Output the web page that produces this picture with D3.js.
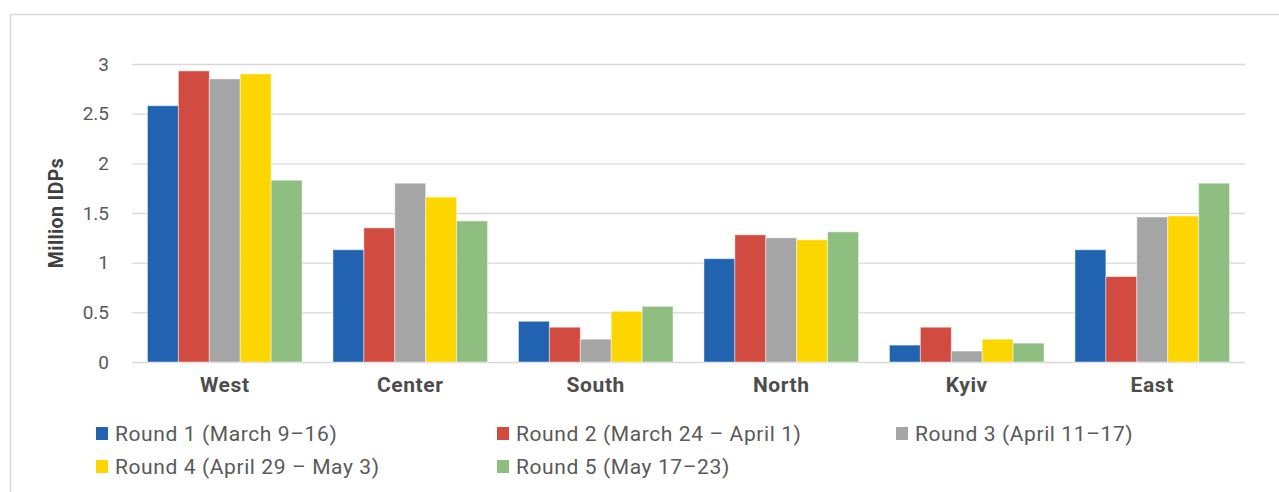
<!DOCTYPE html>
<html>
<head>
<meta charset="utf-8">
<script src="https://cdn.jsdelivr.net/npm/d3@7"></script>
<style>
  html, body { margin: 0; padding: 0; background: #fff; }
  svg { display: block; font-family: Roboto, "Noto Sans", sans-serif; }
</style>
</head>
<body>
<div id="chartContainer"></div>
<script>
const regions = ['West', 'Center', 'South', 'North', 'Kyiv', 'East'];
const rounds = [
    'Round 1 (March 9–16)',
    'Round 2 (March 24 – April 1)',
    'Round 3 (April 11–17)',
    'Round 4 (April 29 – May 3)',
    'Round 5 (May 17–23)'
];
const roundColors = ['#2163b0', '#d14b40', '#a5a5a5', '#fdd600', '#8fbf80'];

// million IDPs per region, one array per round
const round1 = [2.58, 1.13, 0.41, 1.04, 0.17, 1.13];
const round2 = [2.93, 1.35, 0.35, 1.28, 0.35, 0.86];
const round3 = [2.85, 1.80, 0.23, 1.25, 0.11, 1.46];
const round4 = [2.90, 1.66, 0.51, 1.23, 0.23, 1.47];
const round5 = [1.83, 1.42, 0.56, 1.31, 0.19, 1.80];
const yTicks = [0, 0.5, 1, 1.5, 2, 2.5, 3];

const seriesValues = [round1, round2, round3, round4, round5];

function makeChart() {
    const width = 1279;
    const height = 492;
    const margin = { top: 64, right: 34, bottom: 130, left: 132 };

    const svg = d3.select('#chartContainer')
        .append('svg')
        .attr('width', width)
        .attr('height', height);

    // outer frame (top + left edges visible)
    svg.append('path')
        .attr('d', `M10.5,${height + 2} V14.5 H${width + 2}`)
        .attr('fill', 'none')
        .attr('stroke', '#ddd9d7')
        .attr('stroke-width', 1.6);

    const scX = d3.scaleBand()
        .domain(regions)
        .range([margin.left, width - margin.right])
        .padding(0);

    const scSeries = d3.scaleBand()
        .domain(d3.range(rounds.length))
        .range([0, scX.bandwidth()])
        .paddingInner(0)
        .paddingOuter(0.5);

    const scY = d3.scaleLinear()
        .domain([0, 3])
        .range([height - margin.bottom, margin.top]);

    // grid lines
    const grid = d3.axisLeft(scY)
        .tickValues(yTicks)
        .tickFormat('')
        .tickSize(-(width - margin.left - margin.right));

    svg.append('g')
        .attr('transform', `translate(${margin.left}, 0)`)
        .call(grid)
        .call(g => g.select('.domain').remove())
        .call(g => g.selectAll('line')
            .attr('stroke', '#d9d9d9')
            .attr('stroke-width', 1.4));

    // bars
    const groups = svg.append('g')
        .selectAll('g')
        .data(regions)
        .enter()
        .append('g')
        .attr('transform', d => `translate(${scX(d)}, 0)`);

    groups.selectAll('rect')
        .data((d, i) => seriesValues.map((s, k) => ({ k: k, value: s[i] })))
        .enter()
        .append('rect')
        .attr('x', d => scSeries(d.k))
        .attr('width', scSeries.bandwidth())
        .attr('y', d => scY(d.value))
        .attr('height', d => scY(0) - scY(d.value))
        .attr('fill', d => roundColors[d.k])
        .attr('stroke', '#ffffff')
        .attr('stroke-opacity', 0.45)
        .attr('stroke-width', 1);

    // y axis labels
    const yAxis = d3.axisLeft(scY)
        .tickValues(yTicks)
        .tickSize(0)
        .tickPadding(23)
        .tickFormat(d => String(d));

    svg.append('g')
        .attr('transform', `translate(${margin.left}, 0)`)
        .call(yAxis)
        .call(g => g.select('.domain').remove())
        .call(g => g.selectAll('text')
            .attr('fill', '#595959')
            .style('font-size', '19px')
            .style('font-family', 'Roboto, sans-serif'));

    // x axis labels
    const xAxis = d3.axisBottom(scX)
        .tickSize(0)
        .tickPadding(15);

    svg.append('g')
        .attr('transform', `translate(0, ${height - margin.bottom})`)
        .call(xAxis)
        .call(g => g.select('.domain').remove())
        .call(g => g.selectAll('text')
            .attr('fill', '#4d4d4d')
            .style('font-size', '21px')
            .style('letter-spacing', '0.6px')
            .style('font-weight', 'bold')
            .style('font-family', 'Roboto, sans-serif'));

    // y axis title
    svg.append('text')
        .attr('transform', `translate(63, ${(scY(0) + scY(3)) / 2}) rotate(-90)`)
        .attr('text-anchor', 'middle')
        .attr('fill', '#404040')
        .style('font-size', '19.5px')
        .style('letter-spacing', '0.4px')
        .style('font-weight', 'bold')
        .text('Million IDPs');

    // legend
    const legendPos = [[96, 427], [497, 427], [896, 427], [96, 460], [497, 460]];

    const legend = svg.append('g')
        .selectAll('g')
        .data(rounds)
        .enter()
        .append('g')
        .attr('transform', (d, i) => `translate(${legendPos[i][0]}, ${legendPos[i][1]})`);

    legend.append('rect')
        .attr('width', 12)
        .attr('height', 13)
        .attr('fill', (d, i) => roundColors[i]);

    legend.append('text')
        .attr('x', 19)
        .attr('y', 14)
        .attr('fill', '#595959')
        .style('font-size', '21px')
        .style('letter-spacing', '0.6px')
        .text(d => d);
}

makeChart();
</script>
</body>
</html>
